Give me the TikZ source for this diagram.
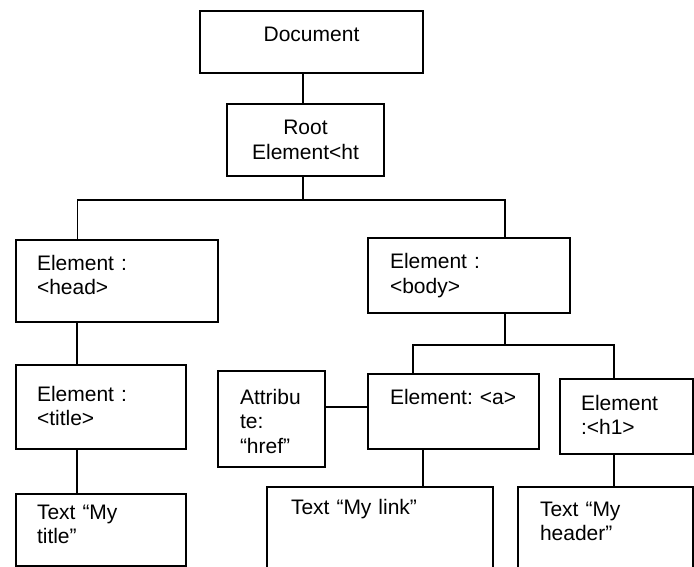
\documentclass[tikz,border=0pt]{standalone}
\usepackage{fontspec}
\setmainfont{Liberation Sans}
\frenchspacing

\begin{document}
\begin{tikzpicture}[x=1pt, y=-1pt, line width=1.5pt,
    cell/.style={draw, rectangle, anchor=north west, outer sep=0pt, inner ysep=0pt,
      align=left, font=\fontsize{21}{24.5}\selectfont},
    midcell/.style={cell, align=center, inner xsep=0pt}]
      \useasboundingbox (0,0) rectangle (694,567);
      \clip (0,0) rectangle (694,567);
      % top of the tree
      \node (doc)[midcell, text width=223pt, text height=31pt, text depth=31pt] at (200,11){Document};
      \node (root)[midcell, text width=157pt, text height=31pt, text depth=41pt] at (227,104){Root\\Element<ht};
      % head side
      \node (head)[cell, inner xsep=21pt, text width=160pt, text height=30pt, text depth=52pt] at (16,240){Element :\\<head>};
      \node (title)[cell, inner xsep=21pt, text width=128pt, text height=36pt, text depth=48pt] at (16,365){Element :\\<title>};
      \node (ttitle)[cell, inner xsep=21pt, text width=128pt, text height=25pt, text depth=47pt] at (16,494){Text “My\\title”};
      % body side
      \node (body)[cell, inner xsep=22pt, text width=158pt, text height=31pt, text depth=44pt] at (368,238){Element :\\<body>};
      \node (attr)[cell, inner xsep=22pt, text width=63pt, text height=33pt, text depth=63pt] at (218,371){Attribu\\te:\\“href”};
      \node (a)[cell, inner xsep=22pt, text width=127pt, text height=30pt, text depth=45pt] at (368,374){Element: <a>};
      \node (h1)[cell, inner xsep=21pt, text width=91pt, text height=31pt, text depth=44pt] at (560,379){Element\\:<h1>};
      \node (link)[cell, inner xsep=24pt, text width=178pt, text height=27pt, text depth=73pt] at (267,487){Text “My link”};
      \node (header)[cell, inner xsep=22pt, text width=131pt, text height=29pt, text depth=71pt] at (518,487){Text “My\\header”};
      \coordinate (j1) at (303,200);
      \coordinate (j2) at (505,345);
      \draw ([xshift=-2.5pt]root.north) -- ([xshift=-2.5pt]root.north |- doc.south);
      \draw ([xshift=-2.5pt]root.south) -- (j1);
      \draw ([xshift=61.5pt]head.north west) |- (j1) -| ([xshift=137pt]body.north west);
      \draw ([xshift=61pt]head.south west) -- ([xshift=61pt]title.north west);
      \draw ([xshift=61pt]title.south west) -- ([xshift=61pt]ttitle.north west);
      \draw ([xshift=137pt]body.south west) -- (j2);
      \draw ([xshift=45pt]a.north west) |- (j2) -| ([xshift=54pt]h1.north west);
      \draw ([yshift=-33pt]a.north west) -- ([yshift=-33pt]a.north west -| attr.east);
      \draw ([xshift=55pt]a.south west) -- ([xshift=55pt]a.south west |- link.north);
      \draw ([xshift=54pt]h1.south west) -- ([xshift=54pt]h1.south west |- header.north);
    \end{tikzpicture}
\end{document}
